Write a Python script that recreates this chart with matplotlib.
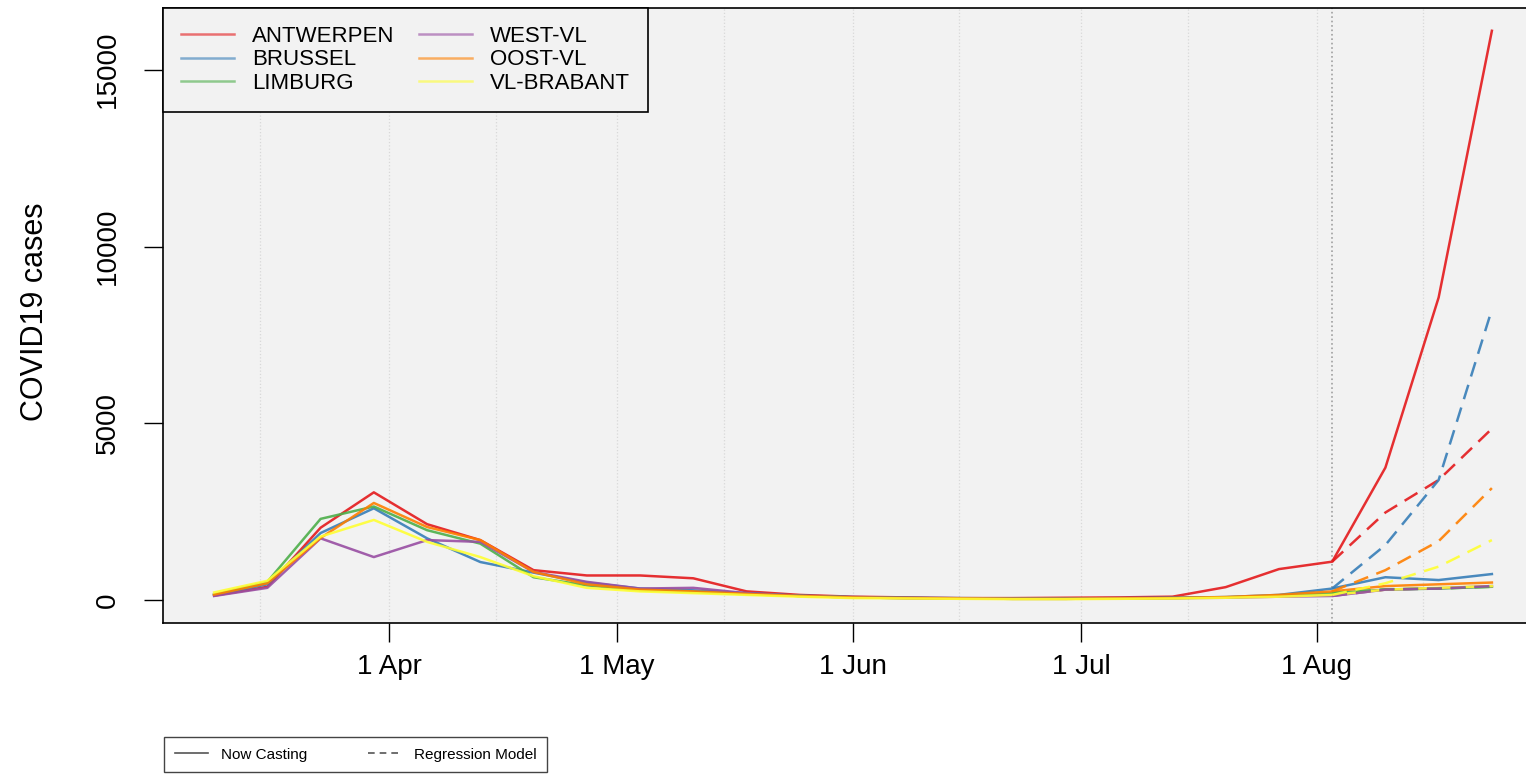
import datetime as dt

import matplotlib
matplotlib.use("Agg")
import matplotlib.dates as mdates
from matplotlib import pyplot as plt
from matplotlib.lines import Line2D

plt.rcParams['font.family'] = ['Liberation Sans', 'DejaVu Sans']

# weekly reporting dates (Mondays)
start = dt.date(2020, 3, 9)
dates = [start + dt.timedelta(days=7 * i) for i in range(25)]
reg_dates = dates[-4:]

provinces = ['ANTWERPEN', 'BRUSSEL', 'LIMBURG', 'WEST-VL', 'OOST-VL', 'VL-BRABANT']
colors = ['#E41A1C', '#377EB8', '#4DAF4A', '#984EA3', '#FF7F00', '#FFFF33']

# now casting (solid)
antwerpen = [130, 380, 2050, 3050, 2150, 1700, 850, 700, 700, 620, 250, 150, 100,
             80, 60, 60, 70, 80, 100, 370, 880, 1090, 3750, 8560, 16100]
brussel = [150, 450, 1900, 2600, 1750, 1080, 780, 500, 330, 280, 200, 130, 90,
           70, 60, 50, 50, 60, 70, 90, 150, 330, 650, 570, 740]
limburg = [160, 520, 2300, 2650, 1980, 1600, 650, 420, 280, 230, 170, 120, 80,
           60, 50, 40, 40, 50, 60, 80, 120, 200, 300, 330, 380]
west_vl = [120, 350, 1750, 1220, 1700, 1650, 800, 520, 330, 350, 200, 120, 80,
           60, 50, 40, 40, 50, 60, 70, 100, 120, 300, 340, 400]
oost_vl = [160, 480, 1760, 2750, 2070, 1700, 800, 450, 300, 250, 180, 120, 80,
           60, 50, 40, 40, 50, 60, 90, 150, 250, 400, 450, 500]
vl_brabant = [220, 550, 1800, 2270, 1650, 1220, 680, 350, 250, 200, 150, 100, 60,
              50, 40, 30, 30, 40, 50, 70, 100, 150, 300, 350, 400]

# regression model (dashed), from 3 Aug onwards
antwerpen_reg = [1090, 2480, 3400, 4850]
brussel_reg = [330, 1560, 3400, 8220]
limburg_reg = [200, 310, 330, 380]
west_vl_reg = [120, 300, 330, 400]
oost_vl_reg = [250, 850, 1670, 3170]
vl_brabant_reg = [150, 480, 950, 1700]

now_series = [antwerpen, brussel, limburg, west_vl, oost_vl, vl_brabant]
reg_series = [antwerpen_reg, brussel_reg, limburg_reg, west_vl_reg, oost_vl_reg, vl_brabant_reg]

tick_dates = [dt.date(2020, m, 1) for m in range(4, 9)]
tick_labels = ['1 Apr', '1 May', '1 Jun', '1 Jul', '1 Aug']
grid_dates = [dt.date(2020, m, d) for m in range(3, 9) for d in (1, 15)]
cut_date = dt.date(2020, 8, 3)

fig = plt.figure(figsize=(15.26, 7.74), dpi=100)
ax = fig.add_axes([163 / 1526, 151 / 774, 1380 / 1526, 615 / 774])
ax.set_facecolor('#f2f2f2')

for g in grid_dates:
    ax.axvline(g, color='#d8d8d8', linestyle=':', linewidth=0.9, zorder=0)
ax.axvline(cut_date, color='#a0a0a0', linestyle=':', linewidth=1.2, zorder=1)

for name, col, ys in zip(provinces, colors, now_series):
    ax.plot(dates, ys, color=col, linewidth=1.8, alpha=0.9, label=name, zorder=3)
for col, ys in zip(colors, reg_series):
    ax.plot(reg_dates, ys, color=col, linewidth=1.8, alpha=0.9,
            linestyle=(0, (6, 3.5)), zorder=3)

# R-style 4% padding around the data
x0 = mdates.date2num(dates[0])
x1 = mdates.date2num(dates[-1])
pad = 0.04 * (x1 - x0)
ax.set_xlim(x0 - pad, x1 + pad)
ymax = max(max(s) for s in now_series + reg_series)
ax.set_ylim(-0.04 * ymax, 1.04 * ymax)

ax.set_xticks([mdates.date2num(d) for d in tick_dates])
ax.set_xticklabels(tick_labels)
ax.set_yticks([0, 5000, 10000, 15000])
ax.tick_params(axis='both', labelsize=20, length=14, width=1, direction='out')
ax.tick_params(axis='x', pad=8)
ax.tick_params(axis='y', pad=16)
for lab in ax.get_yticklabels():
    lab.set_rotation(90)
    lab.set_va('center')

for sp in ax.spines.values():
    sp.set_linewidth(1.2)
    sp.set_color('black')

fig.text(35 / 1526, 1 - 312 / 774, 'COVID19 cases', rotation=90,
         ha='center', va='center', fontsize=22)

leg = ax.legend(loc='upper left', ncol=2, fontsize=16, frameon=True,
                fancybox=False, edgecolor='black', facecolor='#f2f2f2',
                framealpha=1, borderaxespad=0, handlelength=2.4,
                columnspacing=1.1, labelspacing=0.12, borderpad=0.8)
leg.get_frame().set_linewidth(1.2)
for h in leg.get_lines():
    h.set_alpha(0.6)

style_handles = [Line2D([], [], color='#555555', linewidth=1.2),
                 Line2D([], [], color='#555555', linewidth=1.2, linestyle=(0, (4, 3)))]
leg2 = fig.legend(style_handles, ['Now Casting', 'Regression Model'],
                  loc='upper left', bbox_to_anchor=(164 / 1526, 1 - 737 / 774),
                  borderaxespad=0, ncol=2, fontsize=11, frameon=True, fancybox=False,
                  edgecolor='#444444', facecolor='white', framealpha=1,
                  handlelength=2.2, columnspacing=4, borderpad=0.7)
leg2.get_frame().set_linewidth(1)

fig.savefig('out.png', dpi=100)
